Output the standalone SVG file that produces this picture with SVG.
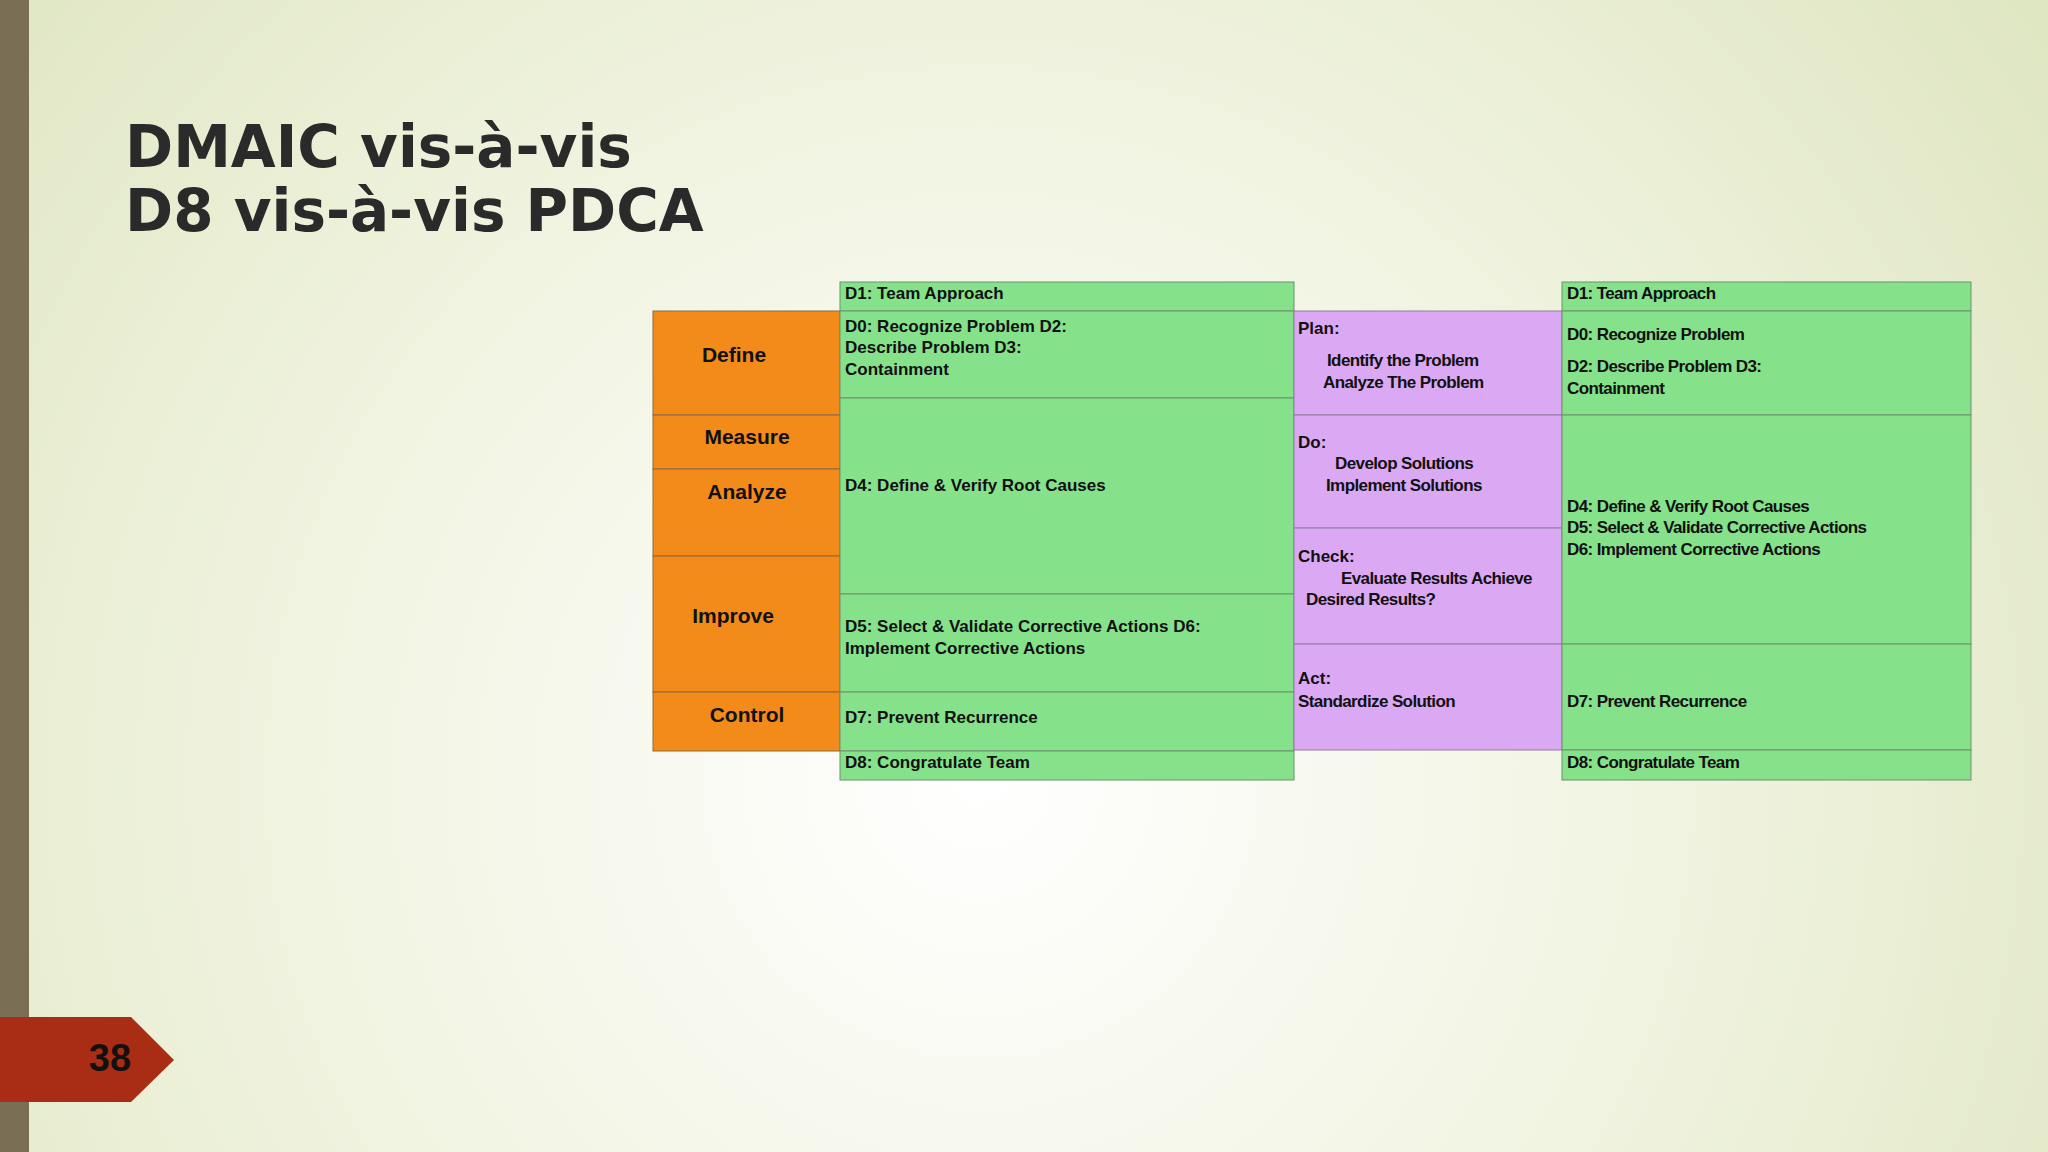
<svg xmlns="http://www.w3.org/2000/svg" width="2048" height="1152" viewBox="0 0 2048 1152">
<defs>
<radialGradient id="bg" cx="980" cy="780" r="1300" gradientUnits="userSpaceOnUse">
<stop offset="0" stop-color="#ffffff"/><stop offset="0.6" stop-color="#eef2dc"/><stop offset="1" stop-color="#dfe6c2"/>
</radialGradient>
<style>
.o{fill:#f38b1a;stroke:#8a6a40;stroke-width:1}
.g{fill:#86e28a;stroke:#6f8f6f;stroke-width:1}
.p{fill:#dba8f4;stroke:#8f7f9f;stroke-width:1}
.t{font-family:"Liberation Sans",Arial,sans-serif;font-weight:bold;font-size:17px;fill:#111}
.c{letter-spacing:-0.6px}
.ol{font-family:"Liberation Sans",Arial,sans-serif;font-weight:bold;font-size:21px;fill:#111;text-anchor:middle}
.ti{font-family:"DejaVu Sans",Verdana,sans-serif;font-weight:bold;font-size:58px;fill:#2a2a2a}
</style>
</defs>
<rect width="2048" height="1152" fill="url(#bg)"/>
<rect width="29" height="1152" fill="#7a6e55"/>
<text class="ti" x="125" y="167">DMAIC  vis-à-vis</text>
<text class="ti" x="125" y="231">D8 vis-à-vis PDCA</text>
<g id="badge"><polygon points="0,1017 131,1017 174,1060 131,1102 0,1102" fill="#a92d14"/>
<text x="110" y="1071" font-family="Liberation Sans,Arial,sans-serif" font-weight="bold" font-size="38" fill="#111" text-anchor="middle">38</text></g>
<g id="dmaic">
<rect class="o" x="653" y="311" width="187" height="104"/><text class="ol" x="734" y="362">Define</text>
<rect class="o" x="653" y="415" width="187" height="54"/><text class="ol" x="747" y="444">Measure</text>
<rect class="o" x="653" y="469" width="187" height="87"/><text class="ol" x="747" y="499">Analyze</text>
<rect class="o" x="653" y="556" width="187" height="136"/><text class="ol" x="733" y="623">Improve</text>
<rect class="o" x="653" y="692" width="187" height="59"/><text class="ol" x="747" y="722">Control</text>
</g>
<g id="d8a">
<rect class="g" x="840" y="282" width="454" height="29"/><text class="t" x="845" y="299">D1: Team Approach</text>
<rect class="g" x="840" y="311" width="454" height="87"/><text class="t" x="845" y="332">D0: Recognize Problem D2:</text><text class="t" x="845" y="353">Describe Problem   D3:</text><text class="t" x="845" y="375">Containment</text>
<rect class="g" x="840" y="398" width="454" height="196"/><text class="t" x="845" y="491">D4: Define &amp; Verify Root Causes</text>
<rect class="g" x="840" y="594" width="454" height="98"/><text class="t" x="845" y="632">D5: Select &amp; Validate Corrective Actions   D6:</text><text class="t" x="845" y="654">Implement Corrective Actions</text>
<rect class="g" x="840" y="692" width="454" height="59"/><text class="t" x="845" y="723">D7: Prevent Recurrence</text>
<rect class="g" x="840" y="751" width="454" height="29"/><text class="t" x="845" y="768">D8: Congratulate Team</text>
</g>
<g id="pdca">
<rect class="p" x="1294" y="311" width="268" height="104"/><text class="t" x="1298" y="334">Plan:</text><text class="t c" x="1327" y="366">Identify the Problem</text><text class="t c" x="1323" y="388">Analyze The Problem</text>
<rect class="p" x="1294" y="415" width="268" height="113"/><text class="t" x="1298" y="448">Do:</text><text class="t c" x="1335" y="469">Develop Solutions</text><text class="t c" x="1326" y="491">Implement Solutions</text>
<rect class="p" x="1294" y="528" width="268" height="116"/><text class="t" x="1298" y="562">Check:</text><text class="t c" x="1341" y="584">Evaluate Results Achieve</text><text class="t c" x="1306" y="605">Desired Results?</text>
<rect class="p" x="1294" y="644" width="268" height="106"/><text class="t" x="1298" y="684">Act:</text><text class="t c" x="1298" y="707">Standardize Solution</text>
</g>
<g id="d8b">
<rect class="g" x="1562" y="282" width="409" height="29"/><text class="t c" x="1567" y="299">D1: Team Approach</text>
<rect class="g" x="1562" y="311" width="409" height="104"/><text class="t c" x="1567" y="340">D0: Recognize Problem</text><text class="t c" x="1567" y="372">D2: Describe Problem D3:</text><text class="t c" x="1567" y="394">Containment</text>
<rect class="g" x="1562" y="415" width="409" height="229"/><text class="t c" x="1567" y="512">D4: Define &amp; Verify Root Causes</text><text class="t c" x="1567" y="533">D5: Select &amp; Validate Corrective Actions</text><text class="t c" x="1567" y="555">D6: Implement Corrective Actions</text>
<rect class="g" x="1562" y="644" width="409" height="106"/><text class="t c" x="1567" y="707">D7: Prevent Recurrence</text>
<rect class="g" x="1562" y="750" width="409" height="30"/><text class="t c" x="1567" y="768">D8: Congratulate Team</text>
</g>
<g id="connectors"/>
</svg>
